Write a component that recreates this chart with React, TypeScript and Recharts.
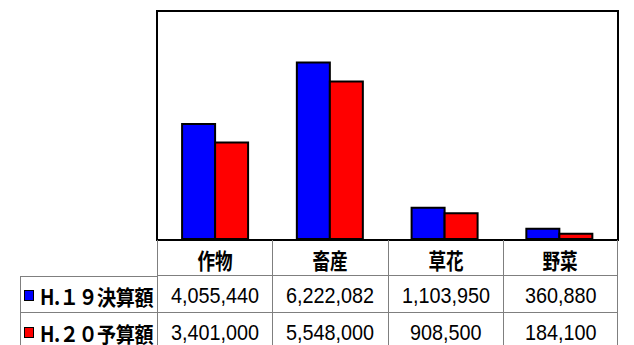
import React from "react";
import { BarChart, Bar, XAxis, YAxis } from "recharts";

const CATEGORIES = ["作物", "畜産", "草花", "野菜"];
const SERIES_NAMES = ["H.１９決算額", "H.２０予算額"];
const H19_VALUES = [4055440, 6222082, 1103950, 360880];
const H20_VALUES = [3401000, 5548000, 908500, 184100];
const SERIES_COLORS = ["#0000FF", "#FF0000"];

const data = CATEGORIES.map((name, i) => ({
  name,
  h19: H19_VALUES[i],
  h20: H20_VALUES[i],
}));

const fmt = (v: number) => v.toLocaleString("en-US");

// table geometry (matches the plot area above it)
const TABLE_LEFT = 20;
const PLOT_LEFT = 157;
const PLOT_RIGHT = 618;
const COL_W = (PLOT_RIGHT - PLOT_LEFT) / CATEGORIES.length;
const ROW_TOPS = [240, 276, 313];
const ROW_H = [36, 37, 40];
const LINE = "1px solid #7f7f7f";

const cjk = '"Noto Sans CJK JP", "Noto Sans", sans-serif';
const latin = '"Liberation Sans", Arial, sans-serif';

export default function App() {
  const rows = [H19_VALUES, H20_VALUES];
  return (
    <div
      style={{
        position: "absolute",
        left: 0,
        top: 0,
        width: 634,
        height: 345,
        background: "#fff",
        overflow: "hidden",
      }}
    >
      {/* plot area box */}
      <div
        style={{
          position: "absolute",
          left: 156,
          top: 10,
          width: 463,
          height: 231,
          boxSizing: "border-box",
          border: "2px solid #000",
        }}
      >
        <BarChart
          width={459}
          height={227}
          data={data}
          margin={{ top: 0, right: 0, bottom: 0, left: 0 }}
          barCategoryGap="21%"
          barGap={0}
        >
          <XAxis dataKey="name" hide />
          <YAxis hide domain={[0, 8000000]} />
          <Bar
            dataKey="h19"
            fill={SERIES_COLORS[0]}
            stroke="#000"
            strokeWidth={2}
            isAnimationActive={false}
          />
          <Bar
            dataKey="h20"
            fill={SERIES_COLORS[1]}
            stroke="#000"
            strokeWidth={2}
            isAnimationActive={false}
          />
        </BarChart>
      </div>

      {/* category row */}
      {CATEGORIES.map((c, i) => (
        <div
          key={c}
          style={{
            position: "absolute",
            left: PLOT_LEFT + i * COL_W,
            top: ROW_TOPS[0],
            width: COL_W,
            height: ROW_H[0],
            boxSizing: "border-box",
            borderLeft: LINE,
            borderRight: i === CATEGORIES.length - 1 ? LINE : undefined,
            borderBottom: LINE,
            display: "flex",
            alignItems: "center",
            justifyContent: "center",
            paddingTop: 2,
          }}
        >
          <span
            style={{
              display: "inline-block",
              fontFamily: cjk,
              fontWeight: 700,
              fontSize: 22,
              transform: "scaleX(0.8)",
              color: "#000",
            }}
          >
            {c}
          </span>
        </div>
      ))}

      {/* data rows */}
      {rows.map((vals, r) => (
        <React.Fragment key={r}>
          <div
            style={{
              position: "absolute",
              left: TABLE_LEFT,
              top: ROW_TOPS[r + 1],
              width: PLOT_LEFT - TABLE_LEFT,
              height: ROW_H[r + 1],
              boxSizing: "border-box",
              borderLeft: LINE,
              borderBottom: LINE,
              borderTop: r === 0 ? LINE : undefined,
              display: "flex",
              alignItems: "center",
              paddingTop: r === 0 ? 2 : 0,
              overflow: "visible",
            }}
          >
            <span
              style={{
                display: "inline-block",
                flexShrink: 0,
                width: 8,
                height: 9,
                marginLeft: 3,
                marginRight: 6,
                background: SERIES_COLORS[r],
                border: "1px solid #000",
              }}
            />
            <span
              style={{
                display: "inline-block",
                flexShrink: 0,
                fontFamily: cjk,
                fontWeight: 700,
                fontSize: 21,
                letterSpacing: -0.5,
                transform: "scaleX(0.91)",
                transformOrigin: "left center",
                color: "#000",
                whiteSpace: "nowrap",
              }}
            >
              {SERIES_NAMES[r]}
            </span>
          </div>
          {vals.map((v, i) => (
            <div
              key={i}
              style={{
                position: "absolute",
                left: PLOT_LEFT + i * COL_W,
                top: ROW_TOPS[r + 1],
                width: COL_W,
                height: ROW_H[r + 1],
                boxSizing: "border-box",
                borderLeft: LINE,
                borderRight: i === vals.length - 1 ? LINE : undefined,
                borderBottom: LINE,
                display: "flex",
                alignItems: "center",
                justifyContent: "center",
                paddingTop: r === 0 ? 4 : 0,
              }}
            >
              <span
                style={{
                  display: "inline-block",
                  fontFamily: latin,
                  fontSize: 22,
                  transform: "scaleX(0.9)",
                  color: "#000",
                }}
              >
                {fmt(v)}
              </span>
            </div>
          ))}
        </React.Fragment>
      ))}
    </div>
  );
}
